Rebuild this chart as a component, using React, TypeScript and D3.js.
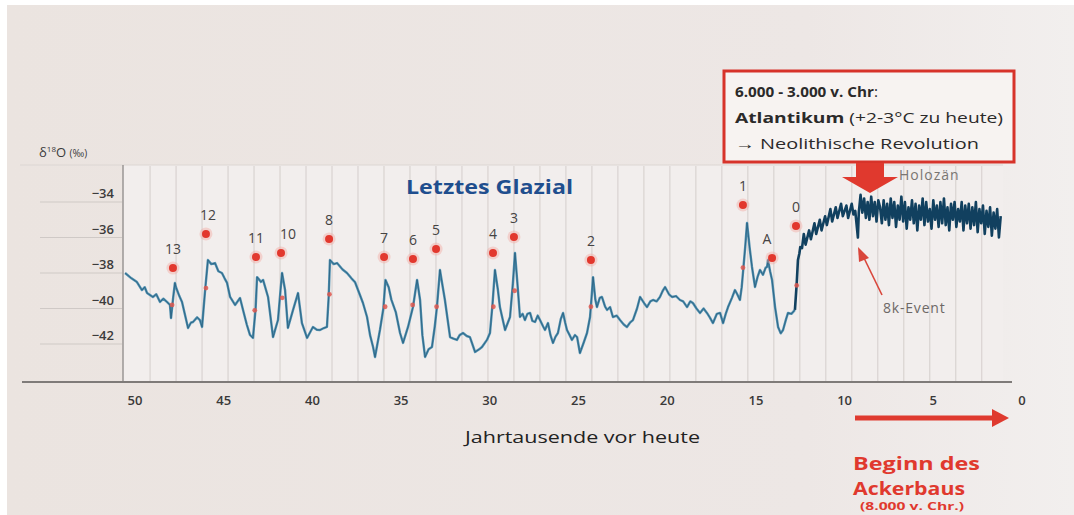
import React, { useEffect, useRef } from 'react';
import * as d3 from 'd3';

// ka before present, d18O (permil)
const glacial: [number, number][] = [
  [50.56, -38.0], [50.2, -38.3], [49.89, -38.51], [49.61, -38.96], [49.45, -38.8], [49.32, -39.13],
  [48.99, -39.35], [48.8, -39.2], [48.59, -39.63], [48.4, -39.45], [48.2, -39.63], [48.03, -39.8],
  [47.97, -40.54], [47.85, -39.4], [47.75, -38.56], [47.69, -38.8], [47.5, -39.3], [47.35, -39.63],
  [47.01, -41.1], [46.85, -40.8], [46.73, -40.76], [46.5, -40.5], [46.34, -40.65], [46.22, -41.04],
  [46.05, -39.0], [45.89, -37.27], [45.7, -37.5], [45.49, -37.44], [45.3, -37.9], [45.1, -38.0],
  [44.95, -38.3], [44.81, -38.56], [44.64, -39.35], [44.36, -39.8], [44.08, -39.41], [43.91, -40.08],
  [43.7, -40.9], [43.52, -41.49], [43.35, -41.66], [43.2, -40.0], [43.12, -38.23], [42.9, -38.5],
  [42.78, -38.39], [42.5, -39.35], [42.22, -41.61], [41.94, -40.65], [41.8, -39.0], [41.71, -38.0],
  [41.54, -38.96], [41.38, -41.1], [41.09, -40.08], [40.81, -39.13], [40.59, -40.82], [40.3, -41.66],
  [39.97, -41.04], [39.75, -41.2], [39.57, -41.21], [39.35, -41.1], [39.18, -41.04], [39.08, -39.3],
  [39.01, -37.27], [38.8, -37.5], [38.61, -37.44], [38.3, -37.8], [38.05, -38.0], [37.8, -38.3],
  [37.6, -38.51], [37.32, -39.24], [37.15, -39.69], [36.92, -40.48], [36.75, -41.5], [36.58, -42.17],
  [36.47, -42.73], [36.3, -41.8], [36.19, -41.2], [36.0, -40.0], [35.88, -38.39], [35.7, -38.8],
  [35.55, -39.5], [35.3, -40.2], [35.06, -41.38], [34.89, -41.94], [34.61, -41.04], [34.4, -40.2],
  [34.33, -39.92], [34.1, -38.39], [33.93, -39.52], [33.8, -41.5], [33.65, -42.73], [33.45, -42.3],
  [33.26, -42.17], [33.1, -41.0], [32.98, -39.92], [32.81, -37.83], [32.65, -38.8], [32.53, -39.52],
  [32.24, -41.61], [32.05, -41.7], [31.85, -41.77], [31.7, -41.5], [31.51, -41.38], [31.3, -41.55],
  [31.12, -41.61], [30.83, -42.45], [30.6, -42.3], [30.44, -42.17], [30.16, -41.77], [29.99, -41.38],
  [29.85, -39.8], [29.71, -37.83], [29.55, -38.9], [29.43, -39.92], [29.14, -41.21], [28.86, -40.48],
  [28.7, -38.6], [28.58, -36.87], [28.45, -38.5], [28.3, -40.48], [28.15, -40.3], [28.02, -40.65],
  [27.88, -40.3], [27.73, -40.25], [27.6, -40.7], [27.45, -40.76], [27.3, -40.4], [27.17, -40.65],
  [27.0, -41.0], [26.89, -41.21], [26.72, -40.82], [26.58, -41.5], [26.44, -41.94], [26.3, -41.6],
  [26.16, -41.38], [26.0, -40.6], [25.87, -40.25], [25.75, -40.8], [25.65, -41.21], [25.5, -41.5],
  [25.37, -41.77], [25.2, -41.5], [25.08, -41.61], [24.92, -42.51], [24.7, -41.9], [24.52, -41.38],
  [24.35, -40.48], [24.25, -39.2], [24.18, -38.23], [24.05, -39.5], [23.96, -39.92], [23.8, -39.4],
  [23.68, -39.35], [23.5, -39.9], [23.39, -40.08], [23.22, -39.92], [23.06, -40.48], [22.85, -40.4],
  [22.66, -40.65], [22.45, -40.9], [22.27, -41.04], [22.1, -40.8], [21.93, -40.65], [21.7, -40.0],
  [21.53, -39.35], [21.3, -39.7], [21.14, -39.92], [20.95, -39.6], [20.8, -39.52], [20.6, -39.6],
  [20.41, -39.35], [20.25, -39.0], [20.12, -38.79], [19.9, -39.2], [19.73, -39.35], [19.5, -39.3],
  [19.28, -39.52], [19.1, -39.6], [18.88, -39.92], [18.7, -39.6], [18.55, -39.69], [18.35, -40.0],
  [18.15, -40.25], [17.95, -40.0], [17.76, -40.25], [17.6, -40.5], [17.42, -40.82], [17.2, -40.3],
  [17.02, -40.25], [16.85, -40.82], [16.7, -40.3], [16.57, -39.92], [16.35, -39.4], [16.18, -38.96],
  [16.05, -39.2], [15.9, -39.52], [15.8, -38.8], [15.73, -38.0], [15.6, -36.5], [15.5, -35.18],
  [15.35, -36.6], [15.22, -37.66], [15.05, -38.79], [14.9, -38.2], [14.77, -37.83], [14.6, -38.1],
  [14.45, -37.7], [14.37, -37.66], [14.32, -37.27], [14.2, -37.9], [14.09, -38.39], [13.92, -39.92],
  [13.75, -41.04], [13.6, -41.4], [13.47, -41.21], [13.3, -40.6], [13.19, -40.25], [13.0, -40.3],
  [12.8, -40.08],
];

const holocene: [number, number][] = [
  [12.8, -40.08], [12.7, -38.6], [12.63, -37.27], [12.55, -36.9], [12.5, -36.54], [12.4, -36.6],
  [12.3, -35.8], [12.2, -36.4], [12.0, -35.6], [11.9, -36.1], [11.7, -35.2], [11.6, -35.8],
  [11.4, -35.0], [11.3, -35.6], [11.1, -34.8], [11.0, -35.3], [10.8, -34.4], [10.7, -35.1],
  [10.5, -34.3], [10.4, -34.9], [10.2, -34.1], [10.1, -34.8], [9.9, -34.2], [9.8, -34.9],
  [9.6, -34.1], [9.5, -34.7], [9.4, -34.5], [9.25, -36.0], [9.2, -34.6], [9.1, -33.6],
  [9.0, -34.6], [8.9, -33.8], [8.8, -34.9], [8.7, -34.0], [8.6, -35.0], [8.5, -33.7],
  [8.4, -34.8], [8.3, -34.0], [8.2, -35.1], [8.1, -33.9], [8.0, -34.3], [7.9, -35.2],
  [7.8, -33.9], [7.7, -35.0], [7.6, -34.1], [7.5, -35.3], [7.4, -33.8], [7.3, -34.9],
  [7.2, -34.0], [7.1, -35.4], [7.0, -34.2], [6.9, -35.0], [6.8, -33.7], [6.7, -35.1],
  [6.6, -34.0], [6.5, -35.5], [6.4, -34.3], [6.3, -35.0], [6.2, -33.9], [6.1, -35.2],
  [6.0, -34.1], [5.9, -35.6], [5.8, -34.2], [5.7, -35.0], [5.6, -33.8], [5.5, -35.3],
  [5.4, -34.0], [5.3, -35.1], [5.2, -34.4], [5.1, -35.5], [5.0, -33.9], [4.9, -35.0],
  [4.8, -34.2], [4.7, -35.4], [4.6, -34.0], [4.5, -35.2], [4.4, -33.8], [4.3, -35.3],
  [4.2, -34.3], [4.1, -35.6], [4.0, -34.1], [3.9, -35.0], [3.8, -34.0], [3.7, -35.4],
  [3.6, -34.4], [3.5, -35.1], [3.4, -34.0], [3.3, -35.6], [3.2, -34.2], [3.1, -35.2],
  [3.0, -34.1], [2.9, -35.5], [2.8, -34.3], [2.7, -35.3], [2.6, -34.0], [2.5, -35.7],
  [2.4, -34.4], [2.3, -35.2], [2.2, -34.2], [2.1, -35.8], [2.0, -34.5], [1.9, -35.4],
  [1.8, -34.3], [1.7, -35.9], [1.6, -34.6], [1.5, -35.5], [1.4, -34.4], [1.3, -36.0],
  [1.2, -34.8],
];

// Dansgaard-Oeschger events
const eventNames = ['13', '12', '11', '10', '8', '7', '6', '5', '4', '3', '2', '1', 'A', '0'];
const eventAges = [47.86, 46.0, 43.18, 41.77, 39.06, 35.96, 34.33, 33.03, 29.82, 28.64, 24.3, 15.73, 14.09, 12.74];
const eventValues = [-37.72, -35.8, -37.1, -36.87, -36.08, -37.1, -37.21, -36.65, -36.87, -35.97, -37.27, -34.17, -37.15, -35.35];
// small red marks on the rising flank
const onsetAges = [47.91, 46.0, 43.25, 41.7, 39.04, 35.9, 34.35, 33.0, 29.8, 28.6, 24.3, 15.73, 12.7];
const onsetValues = [-39.8, -38.85, -40.1, -39.4, -39.2, -39.9, -39.8, -39.9, -39.9, -39.0, -39.9, -37.7, -38.7];

const xTicks = [50, 45, 40, 35, 30, 25, 20, 15, 10, 5, 0];
const yTicks = [-34, -36, -38, -40, -42];

export default function App() {
  const ref = useRef<SVGSVGElement>(null);

  useEffect(() => {
    const svg = d3.select(ref.current);
    svg.selectAll('*').remove();

    const font = "'Open Sans', 'Noto Sans', sans-serif";
    const x = d3.scaleLinear().domain([50, 0]).range([135, 1022]);
    const y = d3.scaleLinear().domain([-34, -42]).range([202, 344]);

    // paper
    svg.append('rect').attr('width', 1074).attr('height', 515).attr('fill', '#ffffff');
    const grad = svg.append('defs').append('linearGradient').attr('id', 'paper');
    grad.append('stop').attr('offset', '0%').attr('stop-color', '#ebe4e0');
    grad.append('stop').attr('offset', '75%').attr('stop-color', '#ede7e5');
    grad.append('stop').attr('offset', '100%').attr('stop-color', '#f2efee');
    svg.append('rect').attr('x', 7).attr('y', 5).attr('width', 1067).attr('height', 510).attr('fill', 'url(#paper)');

    // plot panel
    svg.append('rect').attr('x', 123).attr('y', 165).attr('width', 880).attr('height', 217)
      .attr('fill', '#f2eeed');
    svg.append('line').attr('x1', 20).attr('x2', 1003).attr('y1', 165).attr('y2', 165)
      .attr('stroke', '#dcd6d3').attr('stroke-width', 1);

    // 1470-year grid
    const grid = d3.range(0, 33).map((k) => 49.15 - 1.465 * k);
    svg.append('g').selectAll('line').data(grid).enter().append('line')
      .attr('x1', (d) => x(d)).attr('x2', (d) => x(d))
      .attr('y1', 166).attr('y2', 381)
      .attr('stroke', '#d9d3d1').attr('stroke-width', 1.2);

    svg.append('line').attr('x1', 123).attr('x2', 123).attr('y1', 165).attr('y2', 382)
      .attr('stroke', '#9a9694').attr('stroke-width', 1.5);

    // y axis
    const yAxis = svg.append('g');
    yAxis.selectAll('line').data(yTicks).enter().append('line')
      .attr('x1', 40).attr('x2', 122).attr('y1', (d) => y(d)).attr('y2', (d) => y(d))
      .attr('stroke', '#cfc9c6').attr('stroke-width', 1.2);
    yAxis.selectAll('text').data(yTicks).enter().append('text')
      .attr('x', 114).attr('y', (d) => y(d) - 4)
      .attr('text-anchor', 'end')
      .style('font-family', font).style('font-size', '13px').style('font-weight', 600)
      .attr('fill', '#3c3b3b')
      .text((d) => '\u2212' + Math.abs(d));

    const yl = svg.append('text').attr('x', 39).attr('y', 157)
      .style('font-family', font).style('font-size', '13px').attr('fill', '#3a3a3a');
    yl.append('tspan').text('\u03b4');
    yl.append('tspan').attr('dy', -5).style('font-size', '8px').text('18');
    yl.append('tspan').attr('dy', 5).text('O ');
    yl.append('tspan').style('font-size', '10px').text('(\u2030)');

    // x axis
    svg.append('line').attr('x1', 22).attr('x2', 1012).attr('y1', 382).attr('y2', 382)
      .attr('stroke', '#7f7b79').attr('stroke-width', 2);
    svg.append('g').selectAll('text').data(xTicks).enter().append('text')
      .attr('x', (d) => x(d)).attr('y', 405)
      .attr('text-anchor', 'middle')
      .style('font-family', font).style('font-size', '13px').style('font-weight', 600)
      .attr('fill', '#3a3939')
      .text((d) => d);
    svg.append('text').attr('x', 465).attr('y', 443)
      .attr('textLength', 235).attr('lengthAdjust', 'spacingAndGlyphs')
      .style('font-family', font).style('font-size', '16px').attr('fill', '#222')
      .text('Jahrtausende vor heute');

    // curve
    const line = d3.line<[number, number]>().x((d) => x(d[0])).y((d) => y(d[1]));
    svg.append('path').datum(glacial).attr('d', line).attr('fill', 'none')
      .attr('stroke', '#5190b0').attr('stroke-width', 2.4).attr('stroke-linejoin', 'round');
    svg.append('path').datum(glacial).attr('d', line).attr('fill', 'none')
      .attr('stroke', '#1f5574').attr('stroke-width', 0.9).attr('opacity', 0.75);
    svg.append('path').datum(holocene).attr('d', line).attr('fill', 'none')
      .attr('stroke', '#11405f').attr('stroke-width', 2.6).attr('stroke-linejoin', 'round');

    // event markers
    svg.append('g').selectAll('circle').data(onsetAges).enter().append('circle')
      .attr('cx', (d) => x(d)).attr('cy', (d, i) => y(onsetValues[i]))
      .attr('r', 2.4).attr('fill', '#e0574d').attr('opacity', 0.85);
    const ev = svg.append('g').selectAll('g').data(eventNames).enter().append('g');
    ev.append('circle').attr('cx', (d, i) => x(eventAges[i])).attr('cy', (d, i) => y(eventValues[i]))
      .attr('r', 6.5).attr('fill', '#f3a39c').attr('opacity', 0.4);
    ev.append('circle').attr('cx', (d, i) => x(eventAges[i])).attr('cy', (d, i) => y(eventValues[i]))
      .attr('r', 4).attr('fill', '#e2382e');
    const labelShift: Record<string, number> = { '10': 7, 'A': -5, '12': 2 };
    ev.append('text')
      .attr('x', (d, i) => x(eventAges[i]) + (labelShift[d] || 0))
      .attr('y', (d, i) => y(eventValues[i]) - 14)
      .attr('text-anchor', 'middle')
      .style('font-family', font).style('font-size', '14px')
      .attr('fill', '#454343')
      .text((d) => d);

    svg.append('text').attr('x', 406).attr('y', 194)
      .attr('textLength', 167).attr('lengthAdjust', 'spacingAndGlyphs')
      .style('font-family', font).style('font-size', '19px').style('font-weight', 700)
      .attr('fill', '#1f4e8e')
      .text('Letztes Glazial');

    // Atlantikum box
    svg.append('rect').attr('x', 724).attr('y', 71).attr('width', 290).attr('height', 91)
      .attr('fill', '#f7f3f1').attr('stroke', '#d7332a').attr('stroke-width', 3);
    const t1 = svg.append('text').attr('x', 735).attr('y', 97)
      .attr('textLength', 143).attr('lengthAdjust', 'spacingAndGlyphs')
      .style('font-family', font).style('font-size', '15px').attr('fill', '#2b2a2a');
    t1.append('tspan').style('font-weight', 700).text('6.000 - 3.000 v. Chr');
    t1.append('tspan').text(':');
    const t2 = svg.append('text').attr('x', 735).attr('y', 123)
      .attr('textLength', 268).attr('lengthAdjust', 'spacingAndGlyphs')
      .style('font-family', font).style('font-size', '15px').attr('fill', '#2b2a2a');
    t2.append('tspan').style('font-weight', 700).text('Atlantikum');
    t2.append('tspan').text(' (+2-3\u00b0C zu heute)');
    svg.append('text').attr('x', 735).attr('y', 149)
      .attr('textLength', 244).attr('lengthAdjust', 'spacingAndGlyphs')
      .style('font-family', font).style('font-size', '15px').attr('fill', '#2b2a2a')
      .text('\u2192 Neolithische Revolution');

    svg.append('polygon')
      .attr('points', '856,163 884,163 884,177 898,177 870,193 842,177 856,177')
      .attr('fill', '#e0392e');
    svg.append('text').attr('x', 899).attr('y', 180)
      .style('font-family', font).style('font-size', '14px').style('letter-spacing', '1px')
      .attr('fill', '#7a7572')
      .text('Holozän');

    // 8k event
    svg.append('line').attr('x1', 882).attr('y1', 295).attr('x2', 864).attr('y2', 258)
      .attr('stroke', '#d9463b').attr('stroke-width', 1.6);
    svg.append('polygon').attr('points', '858,247 869,258 859,262').attr('fill', '#d9463b');
    svg.append('text').attr('x', 883).attr('y', 313)
      .style('font-family', font).style('font-size', '14px').style('letter-spacing', '0.8px')
      .attr('fill', '#6d6866')
      .text('8k-Event');

    // Ackerbau
    svg.append('line').attr('x1', 855).attr('x2', 995).attr('y1', 418).attr('y2', 418)
      .attr('stroke', '#df3a2f').attr('stroke-width', 5);
    svg.append('polygon').attr('points', '992,409 1009,418 992,427').attr('fill', '#df3a2f');
    svg.append('text').attr('x', 853).attr('y', 470)
      .attr('textLength', 127).attr('lengthAdjust', 'spacingAndGlyphs')
      .style('font-family', font).style('font-size', '17px').style('font-weight', 700)
      .attr('fill', '#e0392e').text('Beginn des');
    svg.append('text').attr('x', 853).attr('y', 495)
      .attr('textLength', 112).attr('lengthAdjust', 'spacingAndGlyphs')
      .style('font-family', font).style('font-size', '17px').style('font-weight', 700)
      .attr('fill', '#e0392e').text('Ackerbaus');
    svg.append('text').attr('x', 860).attr('y', 510)
      .attr('textLength', 104).attr('lengthAdjust', 'spacingAndGlyphs')
      .style('font-family', font).style('font-size', '10px').style('font-weight', 700)
      .attr('fill', '#e0392e').text('(8.000 v. Chr.)');
  }, []);

  return (
    <div style={{ position: 'absolute', left: 0, top: 0 }}>
      <svg ref={ref} width={1074} height={515}></svg>
    </div>
  );
}
